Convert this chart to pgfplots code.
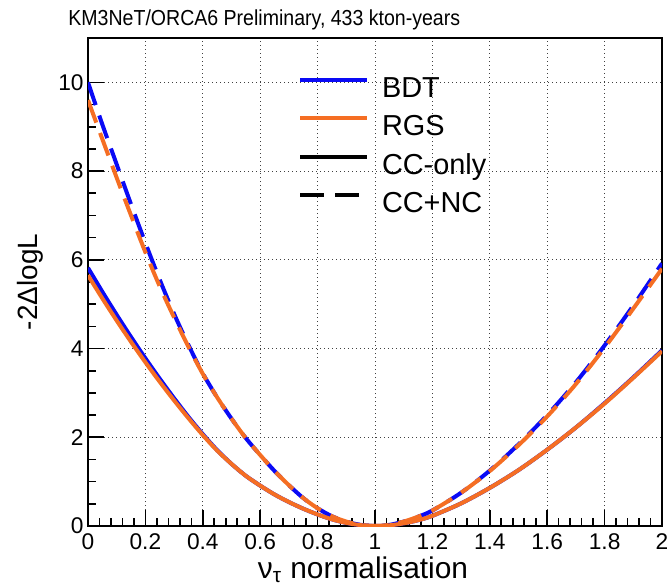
\documentclass[border=0pt]{standalone}
\usepackage{pgfplots}
\pgfplotsset{compat=1.18}
\usepackage{pgfplotstable}
\usepackage{fontspec}
\setmainfont{Liberation Sans}
\newfontfamily\titlefont[FakeStretch=0.9]{Liberation Sans}
\definecolor{bdtblue}{RGB}{10,10,245}
\definecolor{rgsorange}{RGB}{245,110,35}

% BDT, CC-only
\pgfplotstableread{
x y
0 5.82
0.05 5.28
0.1 4.76
0.15 4.26
0.2 3.78
0.25 3.32
0.3 2.88
0.35 2.46
0.4 2.07
0.45 1.71
0.5 1.40
0.55 1.13
0.6 0.91
0.65 0.71
0.7 0.54
0.75 0.39
0.8 0.26
0.85 0.15
0.9 0.07
0.95 0.02
1.0 0.0
1.05 0.015
1.1 0.06
1.15 0.13
1.2 0.23
1.3 0.51
1.4 0.86
1.5 1.26
1.6 1.72
1.7 2.22
1.8 2.77
1.9 3.35
2.0 3.96
}\bdtcc

% RGS, CC-only
\pgfplotstableread{
x y
0 5.65
0.05 5.13
0.1 4.63
0.15 4.15
0.2 3.69
0.25 3.25
0.3 2.83
0.35 2.43
0.4 2.05
0.45 1.70
0.5 1.40
0.55 1.13
0.6 0.91
0.65 0.71
0.7 0.54
0.75 0.39
0.8 0.26
0.85 0.15
0.9 0.07
0.95 0.02
1.0 0.0
1.05 0.015
1.1 0.06
1.15 0.13
1.2 0.23
1.3 0.51
1.4 0.86
1.5 1.26
1.6 1.72
1.7 2.22
1.8 2.76
1.9 3.34
2.0 3.94
}\rgscc

% BDT, CC+NC
\pgfplotstableread{
x y
0 10.0
0.05 9.05
0.1 8.15
0.15 7.25
0.2 6.38
0.25 5.55
0.3 4.78
0.35 4.08
0.4 3.44
0.45 2.90
0.5 2.42
0.55 1.98
0.6 1.60
0.65 1.24
0.7 0.92
0.75 0.63
0.8 0.40
0.85 0.22
0.9 0.10
0.95 0.025
1.0 0.0
1.05 0.025
1.1 0.10
1.15 0.21
1.2 0.35
1.3 0.75
1.4 1.25
1.5 1.84
1.6 2.50
1.7 3.24
1.8 4.07
1.9 4.97
2.0 5.92
}\bdtnc

% RGS, CC+NC
\pgfplotstableread{
x y
0 9.60
0.05 8.72
0.1 7.85
0.15 7.00
0.2 6.17
0.25 5.40
0.3 4.70
0.35 4.04
0.4 3.43
0.45 2.90
0.5 2.42
0.55 1.98
0.6 1.60
0.65 1.24
0.7 0.92
0.75 0.63
0.8 0.40
0.85 0.22
0.9 0.10
0.95 0.025
1.0 0.0
1.05 0.025
1.1 0.10
1.15 0.21
1.2 0.35
1.3 0.75
1.4 1.24
1.5 1.82
1.6 2.47
1.7 3.20
1.8 4.02
1.9 4.90
2.0 5.80
}\rgsnc

\begin{document}
\begin{tikzpicture}
\begin{axis}[
  scale only axis,
  width=287bp, height=244bp,
  xmin=0, xmax=2, ymin=0, ymax=11,
  xtick={0,0.2,0.4,0.6,0.8,1,1.2,1.4,1.6,1.8,2},
  xticklabels={0,0.2,0.4,0.6,0.8,1,1.2,1.4,1.6,1.8,2},
  ytick={0,2,4,6,8,10},
  yticklabels={0,2,4,6,8,10},
  minor x tick num=4, minor y tick num=3,
  tick align=inside, xtick pos=bottom, ytick pos=left,
  major tick length=8bp, minor tick length=4bp,
  every tick/.style={black, line width=0.8bp},
  axis line style={line width=1bp},
  grid=major,
  major grid style={black!75, line width=0.5bp, dash pattern=on 0.6bp off 1.4bp},
  xticklabel style={font=\fontsize{11.4}{13}\selectfont, inner sep=0pt, anchor=north, yshift=-3.5bp},
  yticklabel style={font=\fontsize{11.4}{13}\selectfont, inner sep=0pt, anchor=east, xshift=-2bp},
  legend style={draw=none, fill=none, at={(axis description cs:0.3659,0.9254)}, anchor=north west,
    inner sep=0pt, outer sep=0pt, font=\fontsize{14.5}{17}\selectfont, row sep=3.75bp,
    nodes={text height=10.5bp, text depth=3bp, inner sep=1bp},
    /tikz/every odd column/.append style={column sep=5.5bp}},
  legend cell align=left,
  legend image code/.code={\draw[#1] (0bp,5.2bp) -- (33.5bp,5.2bp);},
]
\addplot[bdtblue, line width=2bp, smooth, forget plot] table {\bdtcc};
\addplot[bdtblue, line width=2bp, smooth, dash pattern=on 12bp off 5.5bp, forget plot] table {\bdtnc};
\addplot[rgsorange, line width=2bp, smooth, forget plot] table {\rgscc};
\addplot[rgsorange, line width=2bp, smooth, dash pattern=on 12bp off 5.5bp, forget plot] table {\rgsnc};
\addlegendimage{bdtblue, line width=2bp}
\addlegendentry{BDT}
\addlegendimage{rgsorange, line width=2bp}
\addlegendentry{RGS}
\addlegendimage{black, line width=2bp}
\addlegendentry{CC-only}
\addlegendimage{black, line width=2bp, dash pattern=on 12bp off 5.5bp}
\addlegendentry{CC+NC}
\end{axis}
\node[anchor=base west, inner sep=0pt, font=\titlefont\fontsize{10.9}{12}\selectfont]
  at ([shift={(-10bp,6bp)}]current axis.north west) {KM3NeT/ORCA6 Preliminary, 433 kton-years};
\node[anchor=center, inner sep=0pt, font=\fontsize{14}{16}\selectfont]
  at ([xshift=-29bp]current axis.west) {\rotatebox{90}{-2ΔlogL}};
\node[anchor=base, inner sep=0pt, font=\fontsize{15}{17}\selectfont]
  at ([shift={(-6bp,-26bp)}]current axis.south) {ν\textsubscript{τ} normalisation};
\pgfresetboundingbox
\path ([shift={(-44bp,-29.5bp)}]current axis.south west) rectangle ([shift={(2.5bp,19bp)}]current axis.north east);
\end{tikzpicture}
\end{document}
